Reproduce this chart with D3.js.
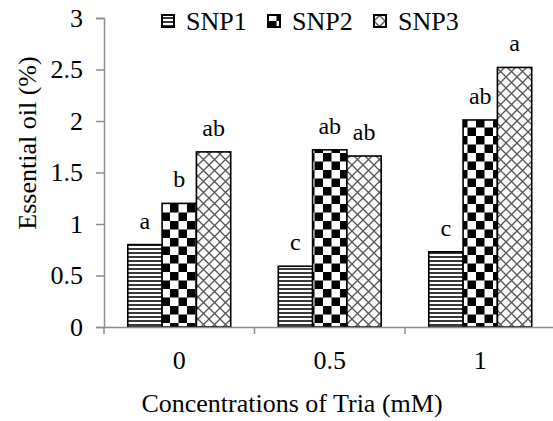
<!DOCTYPE html>
<html>
<head>
<meta charset="utf-8">
<script src="https://cdn.jsdelivr.net/npm/d3@7"></script>
<style>
  body { margin: 0; background: #fff; }
  svg { display: block; }
</style>
</head>
<body>
<div id="chart"></div>
<script>
const categories = ["0", "0.5", "1"];
const seriesNames = ["SNP1", "SNP2", "SNP3"];
const snp1 = [0.8, 0.59, 0.73];
const snp2 = [1.2, 1.72, 2.01];
const snp3 = [1.7, 1.66, 2.52];
const letters1 = ["a", "c", "c"];
const letters2 = ["b", "ab", "ab"];
const letters3 = ["ab", "ab", "a"];
const yTicks = [0, 0.5, 1, 1.5, 2, 2.5, 3];

const W = 553, H = 421;
const serif = '"Liberation Serif"';

const svg = d3.select("#chart").append("svg")
    .attr("width", W)
    .attr("height", H);

// Patterns for the bars
const defs = svg.append("defs");

const p1 = defs.append("pattern")
    .attr("id", "pat-snp1")
    .attr("patternUnits", "userSpaceOnUse")
    .attr("width", 8).attr("height", 4);
p1.append("rect").attr("width", 8).attr("height", 4).attr("fill", "#fff");
p1.append("rect").attr("y", 0).attr("width", 8).attr("height", 2).attr("fill", "#3a3a3a");

const cell = 8.5;
const p2 = defs.append("pattern")
    .attr("id", "pat-snp2")
    .attr("patternUnits", "userSpaceOnUse")
    .attr("width", cell * 2).attr("height", cell * 2);
p2.append("rect").attr("width", cell * 2).attr("height", cell * 2).attr("fill", "#fff");
p2.append("rect").attr("width", cell).attr("height", cell).attr("fill", "#000");
p2.append("rect").attr("x", cell).attr("y", cell).attr("width", cell).attr("height", cell).attr("fill", "#000");

const lat = 11;
const p3 = defs.append("pattern")
    .attr("id", "pat-snp3")
    .attr("patternUnits", "userSpaceOnUse")
    .attr("width", lat).attr("height", lat);
p3.append("rect").attr("width", lat).attr("height", lat).attr("fill", "#fff");
p3.append("path")
    .attr("d", `M0,0L${lat},${lat}M${lat},0L0,${lat}`)
    .attr("stroke", "#555")
    .attr("stroke-width", 1.3);

const fills = ["url(#pat-snp1)", "url(#pat-snp2)", "url(#pat-snp3)"];

// Scales
const plot = { left: 104, right: 555.5, top: 18, bottom: 327 };

const x0 = d3.scaleBand()
    .domain(categories)
    .range([plot.left, plot.right]);

const pad = x0.bandwidth() * 0.158;
const x1 = d3.scaleBand()
    .domain(seriesNames)
    .range([pad, x0.bandwidth() - pad]);

const y = d3.scaleLinear()
    .domain([0, 3])
    .range([plot.bottom, plot.top]);

// Bars
const allValues = [snp1, snp2, snp3];
const allLetters = [letters1, letters2, letters3];
const rows = [];
categories.forEach((c, i) => {
    seriesNames.forEach((s, j) => {
        rows.push({ cat: c, series: s, idx: j, value: allValues[j][i], letter: allLetters[j][i] });
    });
});

svg.append("g").selectAll("rect")
    .data(rows)
    .join("rect")
    .attr("x", d => x0(d.cat) + x1(d.series))
    .attr("y", d => y(d.value))
    .attr("width", x1.bandwidth())
    .attr("height", d => y(0) - y(d.value))
    .attr("fill", d => fills[d.idx])
    .attr("stroke", "#000")
    .attr("stroke-width", 1.6);

svg.append("g").selectAll("text")
    .data(rows)
    .join("text")
    .attr("x", d => x0(d.cat) + x1(d.series) + x1.bandwidth() / 2)
    .attr("y", d => y(d.value) - 16)
    .attr("text-anchor", "middle")
    .style("font-family", serif)
    .style("font-size", "24px")
    .attr("fill", "#000")
    .text(d => d.letter);

// Axes
const axisColor = "#8c8c8c";

const yAxis = svg.append("g")
    .attr("transform", `translate(${plot.left},0)`)
    .call(d3.axisLeft(y).tickValues(yTicks).tickSize(8).tickPadding(13).tickFormat(d3.format("")));
yAxis.select(".domain").attr("stroke", axisColor).attr("stroke-width", 1.5);
yAxis.selectAll(".tick line").attr("stroke", axisColor).attr("stroke-width", 1.5);
yAxis.selectAll(".tick text")
    .style("font-family", serif)
    .style("font-size", "26px")
    .attr("fill", "#000");

const xAxis = svg.append("g")
    .attr("transform", `translate(0,${plot.bottom})`)
    .call(d3.axisBottom(x0).tickSize(0).tickPadding(24));
xAxis.select(".domain").attr("stroke", axisColor).attr("stroke-width", 1.5);
xAxis.selectAll(".tick text")
    .style("font-family", serif)
    .style("font-size", "26px")
    .attr("fill", "#000");

// Category separator ticks
svg.append("g").selectAll("line")
    .data(categories)
    .join("line")
    .attr("x1", d => x0(d))
    .attr("x2", d => x0(d))
    .attr("y1", plot.bottom)
    .attr("y2", plot.bottom + 7)
    .attr("stroke", axisColor)
    .attr("stroke-width", 1.5);

// Axis titles
svg.append("text")
    .attr("transform", `translate(36,143) rotate(-90)`)
    .attr("text-anchor", "middle")
    .style("font-family", serif)
    .style("font-size", "26px")
    .text("Essential oil (%)");

svg.append("text")
    .attr("x", 292)
    .attr("y", 412)
    .attr("text-anchor", "middle")
    .style("font-family", serif)
    .style("font-size", "26px")
    .text("Concentrations of Tria (mM)");

// Legend
const legendX = [162, 268, 374];
const legend = svg.append("g");
seriesNames.forEach((s, j) => {
    const g = legend.append("g").attr("transform", `translate(${legendX[j]},21)`);
    g.append("rect")
        .attr("x", 0).attr("y", -6)
        .attr("width", 12).attr("height", 12)
        .attr("fill", fills[j])
        .attr("stroke", "#000")
        .attr("stroke-width", 2);
    g.append("text")
        .attr("x", 24)
        .attr("y", 9)
        .style("font-family", serif)
        .style("font-size", "26px")
        .text(s);
});
</script>
</body>
</html>
